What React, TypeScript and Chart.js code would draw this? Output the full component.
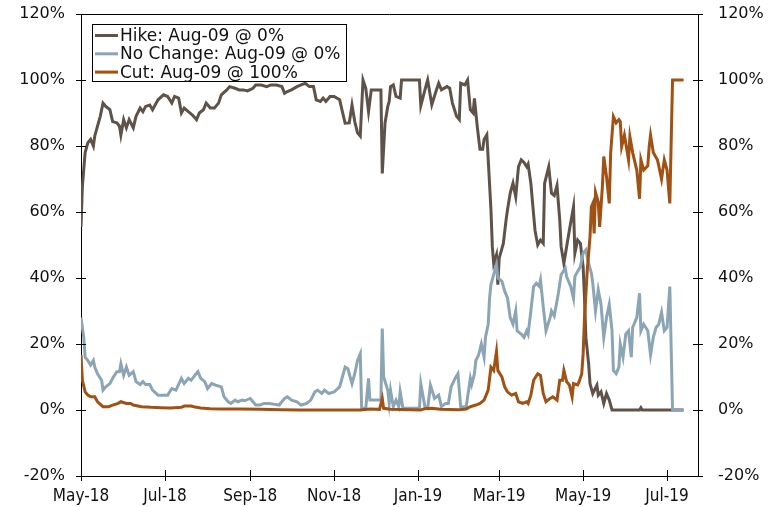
import { useEffect, useRef } from "react";
import { Chart, registerables } from "chart.js";

Chart.register(...registerables);

// Day offsets are counted from 2018-05-01
const xTickDays = [0, 61, 123, 184, 245, 304, 365, 426];
const xTickLabels = ["May-18", "Jul-18", "Sep-18", "Nov-18", "Jan-19", "Mar-19", "May-19", "Jul-19"];
const yTicks = [-20, 0, 20, 40, 60, 80, 100, 120];
const xMaxDay = 448.5;

const legendLabels = ["Hike: Aug-09 @ 0%", "No Change: Aug-09 @ 0%", "Cut: Aug-09 @ 100%"];

const hikeDays = [0, 1, 3, 5, 7, 9, 10, 12, 14, 16, 18, 21, 23, 26, 28, 29, 31, 33, 35, 38, 40, 43, 45, 47, 50, 52, 56, 60, 63, 66, 68, 71, 73, 75, 78, 81, 84, 86, 89, 91, 94, 97, 100, 102, 106, 108, 112, 115, 118, 121, 125, 127, 131, 135, 138, 142, 146, 148, 150, 153, 157, 160, 163, 166, 169, 171, 174, 176, 178, 181, 184, 188, 190, 192, 195, 197, 199, 201, 203, 205, 207, 209, 211, 216, 218, 219, 221, 223, 224, 225, 227, 229, 232, 233, 246, 247, 250, 252, 255, 258, 260, 262, 266, 268, 270, 273, 275, 276, 279, 281, 283, 285, 286, 288, 290, 292, 293, 295, 296, 298, 299, 300, 302, 303, 304, 307, 309, 310, 312, 314, 316, 318, 320, 322, 324, 325, 327, 330, 332, 334, 336, 337, 340, 342, 344, 346, 348, 349, 351, 353, 355, 358, 359, 361, 363, 365, 366, 367, 369, 370, 372, 375, 376, 378, 380, 382, 384, 386, 406, 407, 408, 438];
const hikeValues = [55.5, 67.7, 78, 81, 82, 80, 83, 86, 89, 93, 92, 91, 87.4, 87, 86, 83.3, 88, 85.5, 88, 85.5, 89, 91.5, 90.4, 92, 92.4, 91, 94, 95.5, 95, 93, 95, 94.5, 90, 91.5, 90.4, 89.4, 88, 90, 91, 93, 91.5, 91.5, 93, 95.5, 97, 98, 97.5, 97, 97, 96.7, 97.5, 98.5, 98.5, 98, 98.5, 98.5, 98, 96, 96.5, 97, 98, 98.5, 99, 98, 98, 94, 93.5, 94.5, 93.5, 95, 95, 94, 90.4, 86.9, 87, 92.4, 87.4, 84, 83, 100, 97.5, 90.4, 97, 97, 97, 71.7, 87, 92, 93.4, 98, 98.5, 95, 94.5, 100, 100, 92.2, 97, 100, 92.5, 96.5, 99, 97, 98, 97.5, 93, 89, 88, 99, 98.5, 100, 91, 90, 94.4, 86, 79, 79, 82, 83.4, 76, 60.6, 49.5, 44.4, 47, 38, 46, 50.5, 57.6, 60.6, 65.7, 68.7, 64.6, 73.7, 75.8, 75, 73.7, 74.5, 68.7, 54.5, 50, 51.5, 50.5, 68.7, 73.7, 65.7, 65, 68, 57.6, 49.5, 44.4, 49.5, 54.5, 61.6, 47.5, 51.5, 50.5, 43.4, 34, 22, 14, 8, 5, 7.5, 4.5, 5.5, 2, 5, 3, 0, 0, 0.7, 0, 0];

const noChangeDays = [0, 2, 3, 5, 7, 9, 10, 12, 15, 16, 18, 21, 23, 26, 28, 29, 31, 33, 35, 38, 40, 43, 45, 47, 50, 52, 56, 60, 63, 66, 69, 73, 75, 78, 80, 83, 85, 87, 90, 92, 95, 98, 102, 104, 107, 109, 112, 114, 117, 119, 123, 125, 127, 130, 133, 137, 141, 144, 148, 150, 153, 157, 160, 164, 167, 170, 172, 175, 177, 180, 184, 188, 190, 192, 194, 197, 199, 201, 203, 204, 207, 209, 210, 216, 218, 219, 220, 223, 224, 225, 227, 229, 231, 232, 234, 246, 247, 250, 252, 254, 257, 260, 262, 265, 267, 269, 272, 274, 276, 280, 283, 284, 286, 287, 289, 291, 293, 294, 296, 297, 298, 300, 302, 303, 306, 308, 310, 312, 314, 316, 317, 320, 322, 324, 325, 327, 329, 331, 333, 334, 336, 338, 341, 342, 344, 347, 349, 352, 353, 356, 358, 359, 361, 363, 365, 367, 369, 371, 372, 374, 376, 378, 380, 382, 384, 386, 387, 389, 391, 392, 394, 396, 398, 400, 401, 404, 406, 407, 409, 412, 414, 416, 418, 420, 422, 424, 426, 428, 430, 438];
const noChangeValues = [28, 22, 16, 15, 13.6, 15, 13, 11, 9, 6, 7, 8, 9.6, 11.6, 11.6, 14, 10.5, 13, 10.5, 11.6, 8.6, 7.7, 8.6, 7.7, 7.7, 6, 4.5, 4.5, 4.5, 6.5, 6, 9.6, 8, 9.6, 9, 10.6, 11.6, 9.6, 8.6, 6.5, 8, 7.5, 7, 4, 2.5, 2, 3, 2.5, 3, 2.8, 3.5, 2.5, 1.5, 1.5, 2, 2, 1.7, 1.5, 3.5, 4, 3, 2.5, 1.5, 2, 3, 5.5, 6, 5, 6, 5, 5.5, 7, 10, 13, 12.5, 8, 11, 15, 17, 0.5, 0.5, 9.6, 3, 3, 3, 24.7, 10, 6, 2, 6, 1, 3, 1, 5.5, 0.5, 0.5, 8, 1, 0.5, 7.5, 3.5, 4.5, 1, 2, 2, 7, 9.6, 11, 1, 1, 9.6, 7.7, 11, 15, 16.7, 20, 16, 22, 26, 34, 38, 41, 44, 40, 39, 36, 34, 28, 26, 30, 24, 23, 22, 24, 23, 30, 37.4, 38.4, 37.5, 39.4, 31.3, 24, 28, 30, 28.5, 35.4, 41, 43, 40.4, 37.4, 33.8, 40.4, 42, 43.4, 47.5, 48.5, 44.4, 41.4, 38.4, 30, 36.4, 32, 22, 28, 32, 24, 12, 11, 13, 20, 16, 23, 24, 16, 25, 28, 35.4, 24, 26, 24, 16.7, 22, 25, 26, 29.6, 24, 25, 37.4, 0, 0];

const cutDays = [0, 1, 3, 5, 7, 10, 12, 16, 20, 23, 27, 29, 33, 36, 38, 44, 51, 58, 65, 73, 75, 80, 82, 87, 94, 102, 116, 130, 145, 159, 203, 210, 217, 219, 220, 225, 247, 250, 255, 261, 275, 280, 283, 287, 290, 293, 296, 298, 300, 302, 303, 306, 308, 310, 313, 316, 318, 321, 324, 325, 327, 329, 332, 334, 336, 338, 341, 343, 346, 348, 350, 351, 353, 355, 357, 358, 361, 362, 364, 365, 366, 368, 370, 371, 372, 373, 374, 376, 377, 379, 380, 382, 384, 385, 387, 388, 389, 391, 392, 393, 395, 396, 398, 399, 401, 404, 406, 407, 409, 412, 413, 414, 416, 419, 420, 422, 424, 426, 428, 430, 438];
const cutValues = [16.7, 9, 5.5, 4.5, 4, 4, 2.5, 1, 1, 1.5, 2, 2.5, 2, 2, 1.5, 1, 0.8, 0.7, 0.6, 0.8, 1.2, 1.2, 1, 0.6, 0.4, 0.3, 0.3, 0.2, 0.1, 0, 0, 0.3, 0.2, 3.5, 0.5, 0.2, 0, 0.4, 0.5, 0.2, 0.1, 0.3, 1, 1.5, 2, 3, 6, 13, 12, 17.7, 12, 10, 7, 5.5, 4.5, 5, 2.5, 2, 2.5, 2, 4.5, 9, 11, 10.5, 5, 2.5, 3.5, 4, 3, 9, 9, 12, 8.6, 7.6, 4, 8, 7.6, 8.5, 11, 17, 28, 42.4, 52.5, 61.6, 62.6, 53.5, 66, 63, 55.5, 67.7, 76.8, 70.7, 62.6, 77.8, 88.9, 88, 87, 88, 87.4, 79.8, 83.3, 80.8, 75.8, 82.8, 78, 72.7, 64, 75.8, 72.7, 74, 79.8, 83.3, 78, 75.8, 74, 70, 75.8, 72.7, 62.6, 100, 100];

const hikeColor = "#5f5248";
const noChangeColor = "#8ba5b5";
const cutColor = "#9f5213";

const toPoints = (days: number[], values: number[]) => days.map((d, i) => ({ x: d, y: values[i] }));

const frameAndLegend = {
  id: "frameAndLegend",
  afterDraw(chart: any) {
    const { ctx, chartArea, scales } = chart;
    const { left, right, top, bottom } = chartArea;
    ctx.save();
    ctx.strokeStyle = "#000";
    ctx.lineWidth = 1;
    ctx.beginPath();
    ctx.moveTo(left, top + 0.5);
    ctx.lineTo(right, top + 0.5);
    // y ticks crossing both vertical axes
    yTicks.forEach((v) => {
      const py = Math.round(scales.y.getPixelForValue(v)) + 0.5;
      ctx.moveTo(left - 5, py);
      ctx.lineTo(left + 5, py);
      ctx.moveTo(right - 5, py);
      ctx.lineTo(right + 5, py);
    });
    // x ticks crossing the bottom axis
    xTickDays.forEach((d) => {
      const px = Math.round(scales.x.getPixelForValue(d)) + 0.5;
      ctx.moveTo(px, bottom - 6);
      ctx.lineTo(px, bottom + 5);
    });
    ctx.stroke();

    // legend box
    const bx = 92.5, by = 24.5, bw = 254, bh = 57;
    ctx.fillStyle = "#fff";
    ctx.fillRect(bx, by, bw, bh);
    ctx.strokeRect(bx, by, bw, bh);
    const colors = [hikeColor, noChangeColor, cutColor];
    ctx.font = "17px 'DejaVu Sans'";
    ctx.textBaseline = "middle";
    ctx.textAlign = "left";
    legendLabels.forEach((label, i) => {
      const cy = 35.5 + i * 18.3;
      ctx.strokeStyle = colors[i];
      ctx.lineWidth = 3;
      ctx.beginPath();
      ctx.moveTo(95, cy);
      ctx.lineTo(118, cy);
      ctx.stroke();
      ctx.fillStyle = "#111";
      ctx.fillText(label, 120, cy + 1);
    });
    ctx.restore();
  },
};

const fixVertical = (w: number) => (axis: any) => {
  axis.width = w;
  axis.paddingTop = 0;
  axis.paddingBottom = 0;
};

export default function App() {
  const ref = useRef<HTMLCanvasElement | null>(null);

  useEffect(() => {
    if (!ref.current) return;
    const tickFont = { family: "'DejaVu Sans'", size: 16 };
    const chart = new Chart(ref.current, {
      type: "line",
      data: {
        datasets: [
          {
            label: legendLabels[0],
            data: toPoints(hikeDays, hikeValues),
            borderColor: hikeColor,
            borderWidth: 3,
            pointRadius: 0,
            tension: 0,
            order: 3,
          },
          {
            label: legendLabels[1],
            data: toPoints(noChangeDays, noChangeValues),
            borderColor: noChangeColor,
            borderWidth: 3,
            pointRadius: 0,
            tension: 0,
            order: 2,
          },
          {
            label: legendLabels[2],
            data: toPoints(cutDays, cutValues),
            borderColor: cutColor,
            borderWidth: 3,
            pointRadius: 0,
            tension: 0,
            order: 1,
          },
        ],
      },
      options: {
        animation: false,
        responsive: false,
        maintainAspectRatio: false,
        layout: { padding: { top: 14, left: 0, right: 0, bottom: 0 } },
        plugins: { legend: { display: false }, tooltip: { enabled: false }, title: { display: false } },
        scales: {
          x: {
            type: "linear",
            min: 0,
            max: xMaxDay,
            afterBuildTicks: (axis: any) => {
              axis.ticks = xTickDays.map((v) => ({ value: v }));
            },
            afterFit: (axis: any) => {
              axis.height = 31;
              axis.paddingLeft = 0;
              axis.paddingRight = 0;
            },
            ticks: {
              autoSkip: false,
              maxRotation: 0,
              padding: 10,
              color: "#111",
              font: { family: "'DejaVu Sans Condensed', 'DejaVu Sans'", size: 17 },
              callback: (v: any) => {
                const i = xTickDays.indexOf(Number(v));
                return i >= 0 ? xTickLabels[i] : "";
              },
            },
            grid: { display: false, drawTicks: false },
            border: { display: true, color: "#000", width: 1 },
          },
          y: {
            type: "linear",
            position: "left",
            min: -20,
            max: 120,
            afterBuildTicks: (axis: any) => {
              axis.ticks = yTicks.map((v) => ({ value: v }));
            },
            afterFit: fixVertical(81),
            ticks: { padding: 16, color: "#111", font: tickFont, callback: (v: any) => `${v}%` },
            grid: { display: false, drawTicks: false },
            border: { display: true, color: "#000", width: 1 },
          },
          y2: {
            type: "linear",
            position: "right",
            min: -20,
            max: 120,
            afterBuildTicks: (axis: any) => {
              axis.ticks = yTicks.map((v) => ({ value: v }));
            },
            afterFit: fixVertical(75),
            ticks: { padding: 20, color: "#111", font: tickFont, callback: (v: any) => `${v}%` },
            grid: { display: false, drawTicks: false },
            border: { display: true, color: "#000", width: 1 },
          },
        },
      },
      plugins: [frameAndLegend],
    });
    return () => chart.destroy();
  }, []);

  return (
    <canvas
      ref={ref}
      width={773}
      height={507}
      style={{ position: "absolute", left: 0, top: 0, width: 773, height: 507 }}
    />
  );
}
